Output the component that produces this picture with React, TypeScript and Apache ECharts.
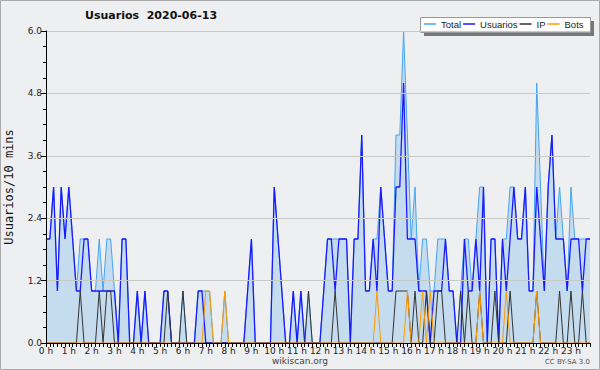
import React, { useEffect, useRef } from "react";
import * as echarts from "echarts";

const TITLE = "Usuarios  2020-06-13";
const Y_NAME = "Usuarios/10 mins";
const HOUR_LABELS = ["0 h","1 h","2 h","3 h","4 h","5 h","6 h","7 h","8 h","9 h","10 h","11 h","12 h","13 h","14 h","15 h","16 h","17 h","18 h","19 h","20 h","21 h","22 h","23 h"];
const MINUTES = ["00","10","20","30","40","50"];
const Y_TICKS = [0, 1.2, 2.4, 3.6, 4.8, 6.0];

const TOTAL = [
  2,2,3,1,3,2, 3,2,1,2,2,2, 1,1,2,1,2,2, 1,0,2,2,0,0,
  1,0,1,0,0,0, 0,1,1,0,0,0, 1,0,0,0,1,1, 1,1,0,0,0,1,
  0,0,0,0,0,1, 2,0,0,0,0,0, 3,2,1,0,0,1, 0,1,0,1,0,0,
  0,1,2,2,2,2, 2,2,0,2,2,4, 1,1,2,2,3,2, 1,1,4,4,6,4,
  2,3,1,2,2,1, 1,2,2,2,1,1, 0,1,2,2,1,2, 3,3,0,2,2,0,
  2,2,3,3,2,2, 3,1,1,5,3,1, 3,4,2,3,2,1, 3,2,2,2,2,2,
];
const USUARIOS = [
  2,2,3,1,3,2, 3,2,1,1,2,2, 1,1,1,1,1,1, 1,0,2,2,0,0,
  1,0,1,0,0,0, 0,1,1,0,0,0, 0,0,0,0,1,1, 0,0,0,0,0,0,
  0,0,0,0,0,1, 2,0,0,0,0,0, 3,2,1,0,0,1, 0,1,0,0,0,0,
  0,1,2,2,1,2, 2,2,0,2,2,4, 1,1,2,1,3,2, 1,1,3,3,5,2,
  2,2,1,1,1,0, 1,1,1,2,1,1, 0,0,2,1,1,2, 1,3,0,2,2,0,
  2,1,2,3,2,2, 3,1,1,3,2,1, 3,4,2,2,2,1, 2,2,2,1,2,2,
];
const IP = [
  0,0,0,0,0,0, 0,0,0,1,0,0, 0,0,1,0,1,1, 0,0,0,0,0,0,
  0,0,0,0,0,0, 0,0,1,0,0,0, 1,0,0,0,0,0, 0,0,0,0,0,0,
  0,0,0,0,0,0, 0,0,0,0,0,0, 0,0,0,0,0,0, 0,0,0,1,0,0,
  0,0,0,0,1,0, 0,0,0,0,0,0, 0,0,0,0,0,0, 0,0,1,1,1,1,
  0,1,0,0,1,0, 0,1,1,0,0,0, 0,1,0,1,0,0, 1,0,0,0,1,0,
  0,0,1,0,0,0, 0,0,0,1,0,0, 0,0,0,1,0,0, 1,0,0,1,0,0,
];
const BOTS = [
  0,0,0,0,0,0, 0,0,0,0,0,0, 0,0,0,0,0,0, 0,0,0,0,0,0,
  0,0,0,0,0,0, 0,0,0,0,0,0, 0,0,0,0,0,0, 1,1,0,0,0,1,
  0,0,0,0,0,0, 0,0,0,0,0,0, 0,0,0,0,0,0, 0,0,0,0,0,0,
  0,0,0,0,0,0, 0,0,0,0,0,0, 0,0,0,1,0,0, 0,0,0,0,0,1,
  0,0,0,1,0,1, 0,0,0,0,0,0, 0,0,0,0,0,0, 1,0,0,0,0,0,
  0,1,0,0,0,0, 0,0,0,1,0,0, 0,0,0,0,0,0, 0,0,0,0,0,0,
];

const CATEGORIES = HOUR_LABELS.flatMap((h) => MINUTES.map((m) => `${h}:${m}`));

const FONT = "DejaVu Sans";
const LEG_FONT = "Liberation Sans";

export default function App() {
  const ref = useRef<HTMLDivElement>(null);
  useEffect(() => {
    if (!ref.current) return;
    const chart = echarts.init(ref.current, null, { renderer: "svg" });
    const lineSeries = (name: string, data: number[], color: string, width: number, extra: any = {}) => ({
      name,
      type: "line",
      data,
      symbol: "none",
      showSymbol: false,
      lineStyle: { color, width },
      itemStyle: { color },
      ...extra,
    });
    chart.setOption({
      animation: false,
      backgroundColor: "#eeeff0",
      title: {
        text: TITLE,
        left: 85,
        top: 10,
        padding: 0,
        textStyle: { fontFamily: FONT, fontSize: 11, fontWeight: "bold", color: "#111" },
      },
      legend: {
        left: 424,
        top: 19,
        padding: 0,
        itemWidth: 12,
        itemHeight: 1.5,
        itemGap: 2,
        icon: "rect",
        z: 20,
        textStyle: { fontFamily: LEG_FONT, fontSize: 9.5, color: "#222" },
        data: ["Total", "Usuarios", "IP", "Bots"],
      },
      grid: { left: 46, right: 10, top: 31, bottom: 27, outerBoundsMode: "none", containLabel: false },
      xAxis: {
        type: "category",
        data: CATEGORIES,
        boundaryGap: false,
        z: 10,
        axisLine: { lineStyle: { color: "#000", width: 1 } },
        axisTick: { show: true, interval: 0, length: 4, lineStyle: { color: "#000" } },
        axisLabel: {
          interval: 5,
          margin: 3,
          fontFamily: FONT,
          fontSize: 9,
          color: "#222",
          formatter: (_v: string, idx: number) => HOUR_LABELS[Math.floor(idx / 6)],
        },
        splitLine: { show: false },
      },
      yAxis: {
        type: "value",
        min: Y_TICKS[0],
        max: Y_TICKS[Y_TICKS.length - 1],
        interval: Y_TICKS[1] - Y_TICKS[0],
        z: 10,
        name: Y_NAME,
        nameLocation: "middle",
        nameGap: 31,
        nameRotate: 90,
        nameTextStyle: { fontFamily: "DejaVu Sans Mono", fontSize: 12, color: "#111" },
        axisLine: { show: true, lineStyle: { color: "#000", width: 1 } },
        axisTick: { show: true, length: 5, lineStyle: { color: "#000" } },
        minorTick: { show: true, splitNumber: 4, length: 3, lineStyle: { color: "#000" } },
        axisLabel: {
          margin: 4,
          fontFamily: FONT,
          fontSize: 9,
          color: "#222",
          formatter: (v: number) => v.toFixed(1),
        },
        splitLine: { show: true, lineStyle: { color: "#c8c8c8", width: 1 } },
      },
      series: [
        lineSeries("Total", TOTAL, "#44a4f4", 1, { areaStyle: { color: "#c5dcef", opacity: 1 } }),
        lineSeries("Usuarios", USUARIOS, "#1a1aff", 1.3),
        lineSeries("IP", IP, "#333333", 1),
        lineSeries("Bots", BOTS, "#ff9a00", 1),
      ],
      graphic: [
        { type: "rect", z: -1, shape: { x: 0.5, y: 0.5, width: 599, height: 369 }, style: { fill: "none", stroke: "#aaaaaa", lineWidth: 1 } },
        { type: "rect", z: 1, shape: { x: 424, y: 21, width: 170, height: 15 }, style: { fill: "#777777" } },
        { type: "rect", z: 2, shape: { x: 420.5, y: 17.5, width: 170, height: 15 }, style: { fill: "#ffffff", stroke: "#999999", lineWidth: 1 } },
        { type: "text", left: "center", top: 356, style: { text: "wikiscan.org", fontFamily: FONT, fontSize: 9, fill: "#444" } },
        { type: "text", right: 10, top: 358, style: { text: "CC BY-SA 3.0", fontFamily: FONT, fontSize: 7, fill: "#555" } },
      ],
    });
    return () => chart.dispose();
  }, []);
  return <div ref={ref} style={{ position: "fixed", left: 0, top: 0, width: 600, height: 370 }} />;
}
